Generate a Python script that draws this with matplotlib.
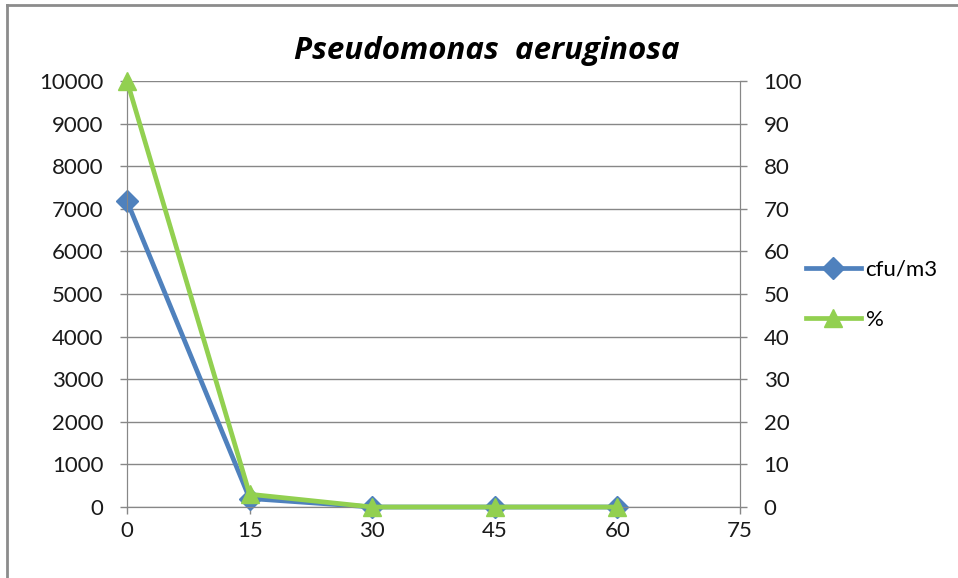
import matplotlib.pyplot as plt
from matplotlib.lines import Line2D

# Данные
minutes = [0, 15, 30, 45, 60]
cfu_m3 = [7180, 200, 0, 0, 0]
percent = [100, 3, 0, 0, 0]
x_ticks = [0, 15, 30, 45, 60, 75]

blue = '#4F81BD'
green = '#92D050'
grid_c = '#878787'

plt.rcParams['font.family'] = ['Lato', 'DejaVu Sans']

fig = plt.figure(figsize=(9.58, 5.78), dpi=100)
ax = fig.add_axes([0.1326, 0.1228, 0.7724 - 0.1326, 0.8599 - 0.1228])
ax2 = ax.twinx()

ax.plot(minutes, cfu_m3, color=blue, lw=3.4, marker='D', ms=11, label='cfu/m3',
        clip_on=False, zorder=3)
ax2.plot(minutes, percent, color=green, lw=3.4, marker='^', ms=13, label='%',
         clip_on=False, zorder=3)

ax.set_xlim(0, 75)
ax.set_xticks(x_ticks)
ax.set_ylim(0, 10000)
ax.set_yticks(range(0, 10001, 1000))
ax2.set_ylim(0, 100)
ax2.set_yticks(range(0, 101, 10))

ax.grid(True, axis='y', color=grid_c, lw=1)
ax.set_axisbelow(True)
for a in (ax, ax2):
    a.spines['top'].set_visible(False)
    for s in ('left', 'right', 'bottom'):
        a.spines[s].set_color(grid_c)
    a.tick_params(colors=grid_c, labelcolor='#1a1a1a', labelsize=16, length=5, width=1)
ax.tick_params(axis='x', pad=5)
ax.tick_params(axis='y', pad=12)
ax2.tick_params(axis='y', pad=12)

fig.text(0.508, 0.912, 'Pseudomonas  aeruginosa', ha='center', va='center',
         fontsize=22.5, fontweight='bold', fontstyle='italic',
         family=['Open Sans', 'DejaVu Sans'])

handles = [Line2D([], [], color=blue, lw=3.4, marker='D', ms=11),
           Line2D([], [], color=green, lw=3.4, marker='^', ms=13)]
fig.legend(handles, ['cfu/m3', '%'], loc='upper left', bbox_to_anchor=(0.82, 0.585),
           frameon=False, fontsize=16, handlelength=2.5, labelspacing=1.35,
           handletextpad=0.2)

# рамка области диаграммы (видны только левая и верхняя стороны)
fig.add_artist(Line2D([0.0073, 0.0073], [0, 0.9913], transform=fig.transFigure,
                      color='#8c8c8c', lw=2))
fig.add_artist(Line2D([0.0073, 1], [0.9913, 0.9913], transform=fig.transFigure,
                      color='#8c8c8c', lw=2))

plt.savefig('out.png', dpi=100)
